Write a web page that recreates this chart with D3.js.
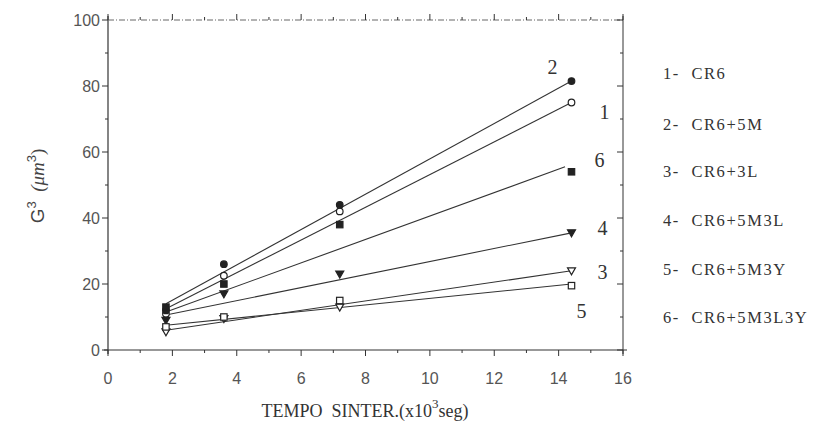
<!DOCTYPE html>
<html>
<head>
<meta charset="utf-8">
<script src="https://cdn.jsdelivr.net/npm/d3@7"></script>
<style>
  body { margin: 0; background: #fff; }
  svg { display: block; }
  .tick-label { font-family: "Liberation Sans", Arial, sans-serif; font-size: 16px; fill: #555; }
  .serif { font-family: "Liberation Serif", "DejaVu Serif", serif; fill: #333; }
</style>
</head>
<body>
<svg width="820" height="427"></svg>
<script>
"use strict";

// sintering time (x10^3 s)
var times = [1.8, 3.6, 7.2, 14.4];

// G^3 (um^3)
var cr6 = [11, 22.5, 42, 75];
var cr6_5m = [12, 26, 44, 81.5];
var cr6_3l = [5.5, 9.5, 13, 24];
var cr6_5m3l = [9, 17, 23, 35.5];
var cr6_5m3y = [7, 10, 15, 19.5];
var cr6_5m3l3y = [13, 20, 38, 54];

// fitted lines: value at start (1.8) and at end
var fitStart = [12.5, 14, 6, 10.6, 7.5, 11.5];
var fitEnd = [75, 81.5, 24, 35.5, 20, 55.5];
var fitEndX = [14.4, 14.4, 14.4, 14.4, 14.4, 14.2];

var seriesNames = ['CR6', 'CR6+5M', 'CR6+3L', 'CR6+5M3L', 'CR6+5M3Y', 'CR6+5M3L3Y'];
var seriesValues = [cr6, cr6_5m, cr6_3l, cr6_5m3l, cr6_5m3y, cr6_5m3l3y];

var xTicks = [0, 2, 4, 6, 8, 10, 12, 14, 16];
var yTicks = [0, 20, 40, 60, 80, 100];

// marker styles and label offsets (px from last point)
var styles = [
    { shape: 'circle', filled: false, dx: 33, dy: 9 },
    { shape: 'circle', filled: true, dx: -19, dy: -14 },
    { shape: 'triangle', filled: false, dx: 31, dy: 1 },
    { shape: 'triangle', filled: true, dx: 31, dy: -5 },
    { shape: 'square', filled: false, dx: 10, dy: 25 },
    { shape: 'square', filled: true, dx: 28, dy: -12 }
];

var svg = d3.select('svg');
var pLeft = 108, pRight = 623, pTop = 20, pBottom = 350;

var x = d3.scaleLinear().domain([0, 16]).range([pLeft, pRight]);
var y = d3.scaleLinear().domain([0, 100]).range([pBottom, pTop]);

var ink = '#333';

// frame
var axes = svg.append('g').attr('stroke', ink).attr('fill', 'none');
axes.append('line').attr('x1', pLeft).attr('x2', pLeft).attr('y1', pTop - 4).attr('y2', pBottom + 4).attr('stroke-width', 1.2);
axes.append('line').attr('x1', pLeft - 4).attr('x2', pRight + 4).attr('y1', pBottom).attr('y2', pBottom).attr('stroke-width', 1.2);
axes.append('line').attr('x1', pRight).attr('x2', pRight).attr('y1', pTop - 4).attr('y2', pBottom + 4).attr('stroke-width', 1);
axes.append('line').attr('x1', pLeft).attr('x2', pRight).attr('y1', pTop).attr('y2', pTop)
    .attr('stroke-width', 1).attr('stroke-dasharray', '6,2,1,2').attr('stroke', '#666');

// ticks
var xMinor = d3.range(0, 16.01, 1);
var yMinor = d3.range(0, 100.01, 10);

xMinor.forEach(v => {
    var major = v % 2 === 0;
    var len = major ? 6 : 3;
    axes.append('line').attr('x1', x(v)).attr('x2', x(v)).attr('y1', pBottom).attr('y2', pBottom + len);
    axes.append('line').attr('x1', x(v)).attr('x2', x(v)).attr('y1', pTop).attr('y2', pTop - len);
});
yMinor.forEach(v => {
    var major = v % 20 === 0;
    var len = major ? 6 : 3;
    axes.append('line').attr('x1', pLeft).attr('x2', pLeft - len).attr('y1', y(v)).attr('y2', y(v));
    axes.append('line').attr('x1', pRight).attr('x2', pRight - len).attr('y1', y(v)).attr('y2', y(v));
});

svg.append('g').selectAll('text').data(xTicks).join('text')
    .attr('class', 'tick-label')
    .attr('x', d => x(d))
    .attr('y', pBottom + 34)
    .attr('text-anchor', 'middle')
    .text(d => d);

svg.append('g').selectAll('text').data(yTicks).join('text')
    .attr('class', 'tick-label')
    .attr('x', pLeft - 8)
    .attr('y', d => y(d) + 6)
    .attr('text-anchor', 'end')
    .text(d => d);

// axis titles
svg.append('text').attr('class', 'serif')
    .attr('x', 365).attr('y', 417).attr('text-anchor', 'middle')
    .attr('font-size', 18)
    .attr('xml:space', 'preserve')
    .html('TEMPO  SINTER.(x10<tspan dy="-9" font-size="13">3</tspan><tspan dy="9">seg)</tspan>');

svg.append('text')
    .attr('transform', 'translate(44,186) rotate(-90)')
    .attr('text-anchor', 'middle')
    .attr('font-family', '"Liberation Sans", Arial, sans-serif')
    .attr('font-size', 19)
    .attr('fill', '#444')
    .attr('xml:space', 'preserve')
    .html('G<tspan dy="-8" font-size="13">3</tspan><tspan dy="8" font-family="Liberation Serif, serif" font-style="italic">  (μm</tspan><tspan dy="-8" font-size="13">3</tspan><tspan dy="8" font-family="Liberation Serif, serif">)</tspan>');

// fit lines
var lines = svg.append('g').attr('stroke', ink).attr('stroke-width', 1.1);
seriesNames.forEach((name, i) => {
    lines.append('line')
        .attr('x1', x(times[0])).attr('y1', y(fitStart[i]))
        .attr('x2', x(fitEndX[i])).attr('y2', y(fitEnd[i]));
});

// markers
var marks = svg.append('g');
seriesValues.forEach((vals, i) => {
    var st = styles[i];
    var g = marks.append('g')
        .attr('fill', st.filled ? '#222' : '#fff')
        .attr('stroke', '#222')
        .attr('stroke-width', 1.2);
    vals.forEach((v, j) => {
        var cx = x(times[j]), cy = y(v);
        if (st.shape === 'circle') {
            g.append('circle').attr('cx', cx).attr('cy', cy).attr('r', 3.3);
        } else if (st.shape === 'square') {
            g.append('rect').attr('x', cx - 3.2).attr('y', cy - 3.2).attr('width', 6.4).attr('height', 6.4);
        } else {
            g.append('path').attr('d', `M${cx - 4},${cy - 3}L${cx + 4},${cy - 3}L${cx},${cy + 4}Z`);
        }
    });
    // series number near line end
    svg.append('text').attr('class', 'serif')
        .attr('x', x(times[3]) + st.dx)
        .attr('y', y(vals[3]) + st.dy)
        .attr('text-anchor', 'middle')
        .attr('dominant-baseline', 'central')
        .attr('font-size', 20)
        .text(i + 1);
});

// legend
var legendY = [73, 124, 171, 220, 269, 317];
svg.append('g').selectAll('text').data(seriesNames).join('text')
    .attr('class', 'serif')
    .attr('x', 663)
    .attr('y', (d, i) => legendY[i] + 6)
    .attr('font-size', 16.5)
    .attr('letter-spacing', 1.6)
    .attr('xml:space', 'preserve')
    .text((d, i) => `${i + 1}-  ${d}`);
</script>
</body>
</html>
